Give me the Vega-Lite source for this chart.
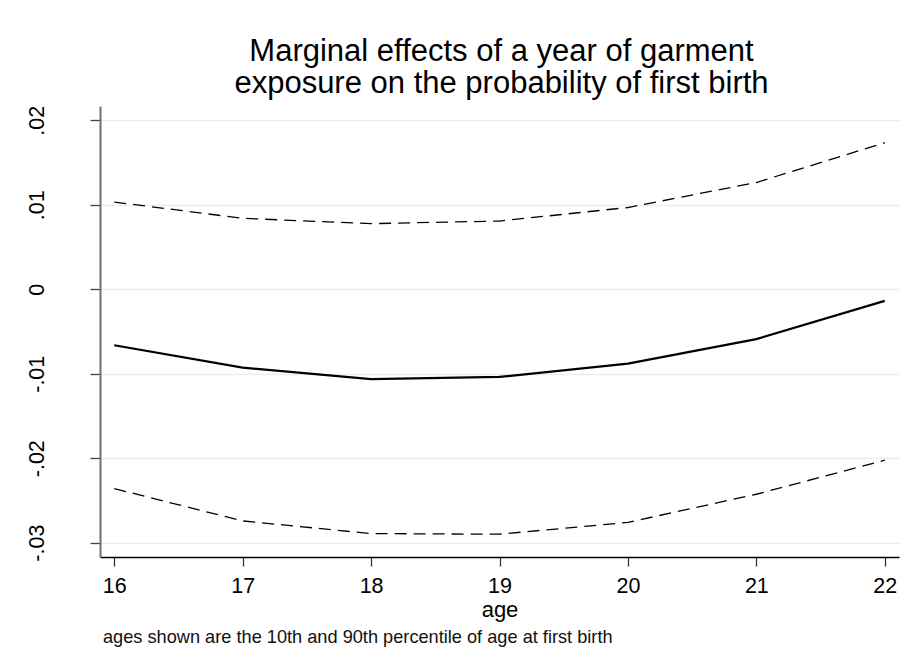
{
  "$schema": "https://vega.github.io/schema/vega-lite/v6.json",
  "background": "white",
  "padding": {"left": 26, "top": 36, "right": 13, "bottom": 20},
  "title": {
    "text": "ages shown are the 10th and 90th percentile of age at first birth",
    "orient": "bottom",
    "anchor": "start",
    "frame": "group",
    "offset": 8,
    "dx": 3,
    "font": "Liberation Sans",
    "fontSize": 18.2,
    "fontWeight": "normal",
    "color": "#111111"
  },
  "vconcat": [
    {
      "width": 799,
      "height": 451,
      "title": {
        "text": ["Marginal effects of a year of garment", "exposure on the probability of first birth"],
        "anchor": "middle",
        "frame": "group",
        "offset": 5,
        "dx": 2,
        "font": "Liberation Sans",
        "fontSize": 31,
        "lineHeight": 32,
        "fontWeight": "normal",
        "color": "#000000"
      },
      "data": {
        "values": [
          {"age": 16, "series": "estimate", "effect": -0.00663},
          {"age": 17, "series": "estimate", "effect": -0.00928},
          {"age": 18, "series": "estimate", "effect": -0.01065},
          {"age": 19, "series": "estimate", "effect": -0.01038},
          {"age": 20, "series": "estimate", "effect": -0.00880},
          {"age": 21, "series": "estimate", "effect": -0.00590},
          {"age": 22, "series": "estimate", "effect": -0.00138},
          {"age": 16, "series": "upper", "effect": 0.01033},
          {"age": 17, "series": "upper", "effect": 0.00840},
          {"age": 18, "series": "upper", "effect": 0.00777},
          {"age": 19, "series": "upper", "effect": 0.00808},
          {"age": 20, "series": "upper", "effect": 0.00968},
          {"age": 21, "series": "upper", "effect": 0.01264},
          {"age": 22, "series": "upper", "effect": 0.01735},
          {"age": 16, "series": "lower", "effect": -0.02360},
          {"age": 17, "series": "lower", "effect": -0.02743},
          {"age": 18, "series": "lower", "effect": -0.02893},
          {"age": 19, "series": "lower", "effect": -0.02900},
          {"age": 20, "series": "lower", "effect": -0.02760},
          {"age": 21, "series": "lower", "effect": -0.02427},
          {"age": 22, "series": "lower", "effect": -0.02024}
        ]
      },
      "encoding": {
        "x": {
          "field": "age",
          "type": "quantitative",
          "scale": {"domain": [15.889, 22.111], "nice": false, "zero": false},
          "axis": {
            "values": [16, 17, 18, 19, 20, 21, 22],
            "format": "d",
            "grid": false,
            "tickSize": 9,
            "tickColor": "#333333",
            "tickWidth": 1.3,
            "domainColor": "#000000",
            "domainWidth": 1.6,
            "labelFont": "Liberation Sans",
            "labelFontSize": 21.5,
            "labelColor": "#000000",
            "labelPadding": 9,
            "labelFlush": false,
            "title": "age",
            "titleFont": "Liberation Sans",
            "titleFontSize": 22,
            "titleFontWeight": "normal",
            "titleColor": "#000000",
            "titlePadding": 3
          }
        },
        "y": {
          "field": "effect",
          "type": "quantitative",
          "scale": {"domain": [-0.0317, 0.0217], "nice": false, "zero": false},
          "axis": {
            "values": [-0.03, -0.02, -0.01, 0, 0.01, 0.02],
            "labelExpr": "datum.value == 0 ? '0' : (datum.value < 0 ? '-' : '') + '.0' + abs(round(datum.value * 100))",
            "grid": true,
            "gridColor": "#e6eef1",
            "gridWidth": 1.5,
            "tickSize": 10,
            "tickColor": "#444444",
            "tickWidth": 1.3,
            "domainColor": "#707070",
            "domainWidth": 2,
            "labelAngle": 270,
            "labelAlign": "center",
            "labelBaseline": "alphabetic",
            "labelPadding": 47,
            "labelFont": "Liberation Sans",
            "labelFontSize": 21.5,
            "labelColor": "#000000",
            "title": null
          }
        }
      },
      "layer": [
        {
          "transform": [{"filter": "datum.series != 'estimate'"}],
          "mark": {"type": "line", "color": "#000000", "strokeWidth": 1.3, "strokeDash": [12, 7]},
          "encoding": {"detail": {"field": "series"}}
        },
        {
          "transform": [{"filter": "datum.series == 'estimate'"}],
          "mark": {"type": "line", "color": "#000000", "strokeWidth": 2.2}
        }
      ]
    }
  ],
  "config": {
    "view": {"stroke": null}
  }
}
